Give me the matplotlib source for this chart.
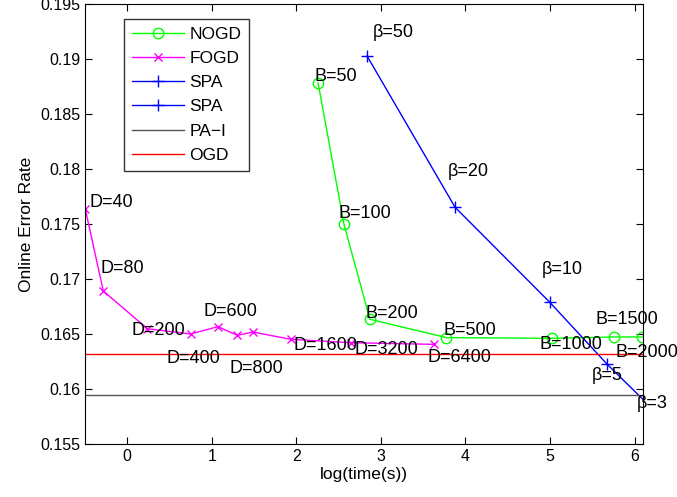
import numpy as np
import matplotlib
matplotlib.use('Agg')
import matplotlib.pyplot as plt

plt.rcParams['font.family'] = ['Liberation Sans', 'DejaVu Sans']
plt.rcParams['font.size'] = 12.5

# NOGD (budget B)
nogd_x = [2.256, 2.563, 2.87, 3.775, 5.018, 5.76, 6.09]
nogd_y = [0.18785, 0.17497, 0.16634, 0.16467, 0.16461, 0.16473, 0.16473]
nogd_labels = ['B=50', 'B=100', 'B=200', 'B=500', 'B=1000', 'B=1500', 'B=2000']
nogd_lab_x = [2.217, 2.504, 2.82, 3.735, 4.87, 5.54, 5.77]
nogd_lab_y = [0.18845, 0.17597, 0.16688, 0.16536, 0.16406, 0.16636, 0.1633]

# FOGD (features D)
fogd_x = [-0.497, -0.284, 0.237, 0.749, 1.072, 1.30, 1.486, 1.933, 2.643, 3.629]
fogd_y = [0.17636, 0.16891, 0.16548, 0.1650, 0.16567, 0.16488, 0.16518, 0.16452, 0.16421, 0.16406]
fogd_labels = ['D=40', 'D=80', 'D=200', 'D=400', 'D=600', 'D=800', 'D=1600', 'D=3200', 'D=6400']
fogd_lab_x = [-0.446, -0.316, 0.051, 0.461, 0.907, 1.203, 1.96, 2.69, 3.546]
fogd_lab_y = [0.17691, 0.17097, 0.16536, 0.16278, 0.16709, 0.16191, 0.16394, 0.16361, 0.16288]

# SPA (beta)
spa_x = [2.836, 3.877, 4.998, 5.676, 6.2]
spa_y = [0.19027, 0.17652, 0.16788, 0.16225, 0.1583]
spa_labels = ['\u03b2=50', '\u03b2=20', '\u03b2=10', '\u03b2=5', '\u03b2=3']
spa_lab_x = [2.907, 3.787, 4.90, 5.49, 6.03]
spa_lab_y = [0.19239, 0.17976, 0.17082, 0.16127, 0.1587]

pa_i = 0.15948
ogd = 0.16315

fig = plt.figure(figsize=(6.77, 4.97), dpi=100)
ax = fig.add_axes([0.1256, 0.1066, 0.8242, 0.8854])

ax.plot(nogd_x, nogd_y, color='#00ff00', marker='o', markersize=7.5, markerfacecolor='none',
        linewidth=1, label='NOGD')
ax.plot(fogd_x, fogd_y, color='#ff00ff', marker='x', markersize=6, linewidth=1, label='FOGD')
ax.plot(spa_x, spa_y, color='#0000ff', marker='+', markersize=9, linewidth=1, label='SPA')
ax.plot([], [], color='#0000ff', marker='+', markersize=9, linewidth=1, label='SPA')
ax.axhline(pa_i, color='#555555', linewidth=1, label='PA\u2212I')
ax.axhline(ogd, color='#ff0000', linewidth=1, label='OGD')

for t, x, y in zip(nogd_labels, nogd_lab_x, nogd_lab_y):
    ax.text(x, y, t, ha='left', va='center', fontsize=13)
for t, x, y in zip(fogd_labels, fogd_lab_x, fogd_lab_y):
    ax.text(x, y, t, ha='left', va='center', fontsize=13)
for t, x, y in zip(spa_labels, spa_lab_x, spa_lab_y):
    ax.text(x, y, t, ha='left', va='center', fontsize=13, clip_on=False)

ax.set_xlim(-0.5, 6.1)
ax.set_ylim(0.155, 0.195)
ax.set_xticks(range(0, 7))
ax.set_yticks(np.arange(0.155, 0.1951, 0.005))
ax.set_yticklabels(['0.155', '0.16', '0.165', '0.17', '0.175', '0.18', '0.185', '0.19', '0.195'])
ax.tick_params(direction='in', top=True, right=True, length=5, labelsize=11.5)
ax.set_xlabel('log(time(s))', fontsize=12.5, labelpad=2)
ax.set_ylabel('Online Error Rate', fontsize=12.5)

leg = ax.legend(loc='upper left', bbox_to_anchor=(0.0704, 0.966), borderaxespad=0,
                fancybox=False, edgecolor='black', handlelength=3.0, handletextpad=0.3,
                borderpad=0.45, labelspacing=0.52, fontsize=12.5)
leg.get_frame().set_linewidth(1)

fig.savefig('out.png', dpi=100)
